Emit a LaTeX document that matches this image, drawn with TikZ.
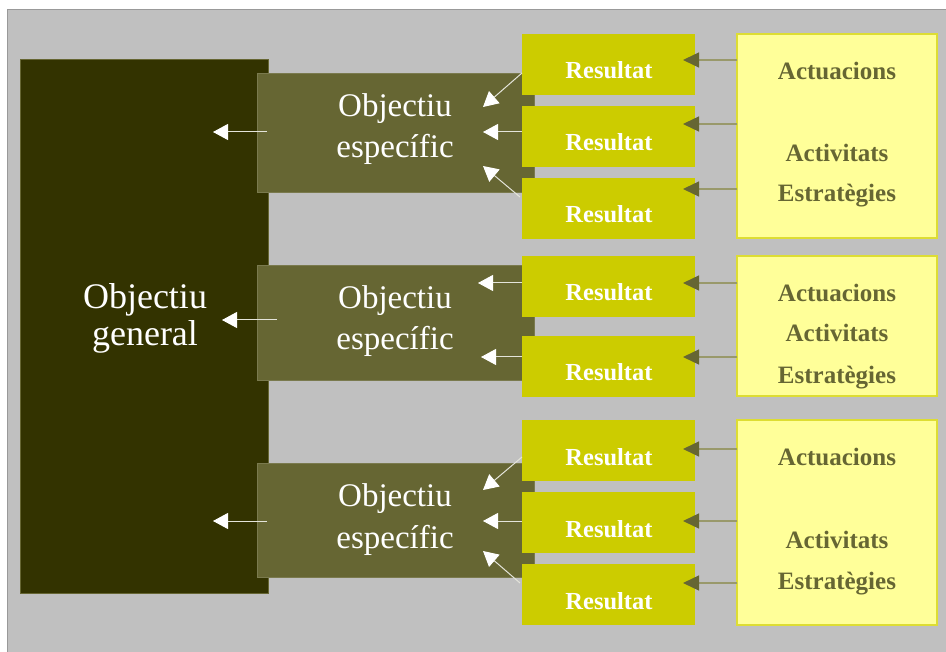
\documentclass[tikz,border=0pt]{standalone}
\usepackage{fontspec}
\setmainfont{Liberation Serif}
\usetikzlibrary{arrows.meta}

\definecolor{bggray}{HTML}{C0C0C0}
\definecolor{darkolive}{HTML}{333300}
\definecolor{olive}{HTML}{666633}
\definecolor{oliveedge}{HTML}{7A7A4E}
\definecolor{mustard}{HTML}{CCCC00}
\definecolor{paleyellow}{HTML}{FFFF99}
\definecolor{yellowedge}{HTML}{DDDD33}
\definecolor{greyline}{HTML}{99996B}
\definecolor{paleline}{HTML}{E4E4DA}

\tikzset{
  box/.style={rectangle, anchor=north west, inner sep=0pt, outer sep=0pt},
  generalbox/.style={box, fill=darkolive, draw=olive, line width=0.6pt},
  specbox/.style={box, fill=olive, draw=oliveedge, line width=0.6pt},
  resbox/.style={box, fill=mustard},
  actbox/.style={box, fill=paleyellow, draw=yellowedge, line width=1.2pt},
  gentxt/.style={anchor=base, text=white, font=\fontsize{36}{40}\selectfont, inner sep=0pt},
  spectxt/.style={anchor=base, text=white, font=\fontsize{33}{40}\selectfont, inner sep=0pt},
  restxt/.style={anchor=base, text=white, font=\bfseries\fontsize{24.5}{30}\selectfont, inner sep=0pt},
  acttxt/.style={anchor=base, text=olive, font=\bfseries\fontsize{25}{30}\selectfont, inner sep=0pt},
  whitearrow/.style={draw=paleline, line width=1pt,
    -{Triangle[length=15pt,width=16pt,fill=white,color=white]}},
  feedarrow/.style={draw=greyline, line width=1.4pt,
    -{Triangle[length=16pt,width=15pt,fill=olive,color=olive]}},
}

\begin{document}
\begin{tikzpicture}[x=1pt,y=-1pt]
  \useasboundingbox (0,0) rectangle (946,652);
  % grey panel
  \fill[bggray] (7,9) rectangle (946,652);
  \draw[gray!80, line width=0.8pt] (7,652) -- (7,9) -- (946,9);

  % general objective
  \node[generalbox, minimum width=248pt, minimum height=534pt] (gen) at (20,59) {};
  \node[gentxt] (gen1) at (145,309) {Objectiu};
  \node[gentxt] (gen2) at (145,346) {general};

  % specific objectives
  \node[specbox, minimum width=277pt, minimum height=119pt] (sp1) at (257,73) {};
  \node[specbox, minimum width=277pt, minimum height=115pt] (sp2) at (257,265) {};
  \node[specbox, minimum width=277pt, minimum height=114pt] (sp3) at (257,463) {};
  \foreach \n/\y in {1/117, 2/309, 3/507} {
    \node[spectxt] (sp\n a) at (395,\y) {Objectiu};
    \node[spectxt] (sp\n b) at (395,\y+41) {específic};
  }

  % specific -> general
  \coordinate (g1) at (213,132);
  \coordinate (g2) at (222,320);
  \coordinate (g3) at (213,521);
  \draw[whitearrow] (sp1.west |- g1) ++(10,0) -- (g1);
  \draw[whitearrow] (sp2.west |- g2) ++(20,0) -- (g2);
  \draw[whitearrow] (sp3.west |- g3) ++(10,0) -- (g3);

  % results
  \foreach \n/\y in {11/34, 12/106, 13/178, 21/256, 22/336, 31/420, 32/492, 33/564} {
    \node[resbox, minimum width=173pt, minimum height=61pt] (r\n) at (522,\y) {};
    \node[restxt] (rt\n) at (609,\y+45) {Resultat};
  }

  % results -> specific objectives
  \coordinate (s11) at (483,107);
  \coordinate (s12) at (483,132);
  \coordinate (s13) at (483,166);
  \coordinate (s21) at (478,283);
  \coordinate (s22) at (481,357);
  \coordinate (s31) at (483,490);
  \coordinate (s32) at (483,521);
  \coordinate (s33) at (483,551);
  \draw[whitearrow] (r11.north west) ++(0,39) -- (s11);
  \draw[whitearrow] (r12.west |- s12) -- (s12);
  \draw[whitearrow] (r13.north west) ++(-2,19) -- (s13);
  \draw[whitearrow] (r21.west |- s21) -- (s21);
  \draw[whitearrow] (r22.west |- s22) -- (s22);
  \draw[whitearrow] (r31.north west) ++(0,37) -- (s31);
  \draw[whitearrow] (r32.west |- s32) -- (s32);
  \draw[whitearrow] (r33.north west) ++(-2,19) -- (s33);

  % actions
  \node[actbox, minimum width=200pt, minimum height=204pt] (a1) at (737,34) {};
  \node[actbox, minimum width=200pt, minimum height=140pt] (a2) at (737,256) {};
  \node[actbox, minimum width=200pt, minimum height=205pt] (a3) at (737,420) {};
  \node[acttxt] (a1a) at (837,80) {Actuacions};
  \node[acttxt] (a1b) at (837,162) {Activitats};
  \node[acttxt] (a1c) at (837,202) {Estratègies};
  \node[acttxt] (a2a) at (837,302) {Actuacions};
  \node[acttxt] (a2b) at (837,342) {Activitats};
  \node[acttxt] (a2c) at (837,384) {Estratègies};
  \node[acttxt] (a3a) at (837,466) {Actuacions};
  \node[acttxt] (a3b) at (837,548) {Activitats};
  \node[acttxt] (a3c) at (837,589) {Estratègies};

  % actions -> results (tips reach into the result boxes)
  \foreach \a/\r/\y in {1/11/60, 1/12/124, 1/13/189, 2/21/283, 2/22/357, 3/31/449, 3/32/521, 3/33/583} {
    \draw[feedarrow] (a\a.west |- 0,\y) -- ([xshift=-12pt]r\r.east |- 0,\y);
  }
\end{tikzpicture}
\end{document}
